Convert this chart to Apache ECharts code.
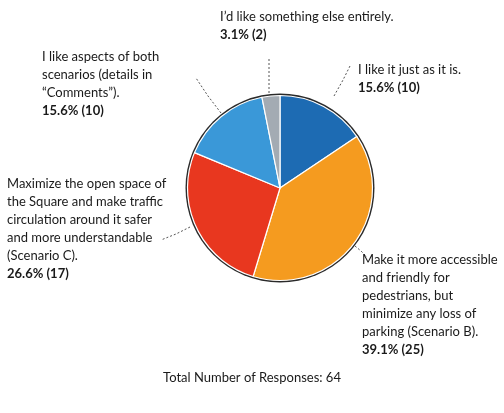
<!DOCTYPE html>
<html>
<head>
<meta charset="utf-8">
<style>
  html, body { margin: 0; padding: 0; background: #ffffff; }
  #chart { width: 504px; height: 413px; }
</style>
<script src="https://cdn.jsdelivr.net/npm/echarts@6/dist/echarts.min.js"></script>
</head>
<body>
<div id="chart"></div>
<script>
// Survey answers, clockwise from 12 o'clock
const categories = [
  "I like it just as it is.",
  "Make it more accessible\nand friendly for\npedestrians, but\nminimize any loss of\nparking (Scenario B).",
  "Maximize the open space of\nthe Square and make traffic\ncirculation around it safer\nand more understandable\n(Scenario C).",
  "I like aspects of both\nscenarios (details in\n\u201cComments\u201d).",
  "I\u2019d like something else entirely."
];
const responses = [10, 25, 17, 10, 2];
const colors = ["#1d6bb3", "#f59b1f", "#e8371f", "#3a98d8", "#a3abb3"];
const totalLabel = "Total Number of Responses: ";

const total = responses.reduce((a, b) => a + b, 0);

// label anchor (top-left) and leader line per slice
const labelSpots = [
  { x: 358, y: 61,  line: [[334, 96], [343, 80], [350, 66]] },
  { x: 362, y: 251, line: [[355, 246], [361, 251], [367, 257]] },
  { x: 7,   y: 175, line: [[190, 227], [176, 234], [161, 240]] },
  { x: 42,  y: 48,  line: [[221, 113], [208, 96], [196, 78]] },
  { x: 220, y: 8,   line: [[269, 93], [269, 76], [269, 59]] }
];

const chart = echarts.init(document.getElementById('chart'));

const option = {
  backgroundColor: '#ffffff',
  textStyle: { fontFamily: 'Lato' },
  series: [
    {
      // dark rim behind the slices
      type: 'pie',
      silent: true,
      center: [280, 188],
      radius: [0, 94.5],
      label: { show: false },
      labelLine: { show: false },
      itemStyle: { color: '#2a2a2a' },
      data: [{ value: 1 }],
      z: 1
    },
    {
      type: 'pie',
      center: [280, 188],
      radius: [0, 92.5],
      startAngle: 90,
      clockwise: true,
      z: 2,
      data: categories.map((c, i) => ({
        name: c,
        value: responses[i],
        itemStyle: { color: colors[i] }
      })),
      itemStyle: { borderColor: '#ffffff', borderWidth: 1.2 },
      label: {
        show: true,
        position: 'outside',
        overflow: 'none',
        width: 300,
        formatter: p => {
          const pct = (p.value / total * 100).toFixed(1);
          const lines = p.name.split('\n').map(s => '{n|' + s + '}').join('\n');
          return lines + '\n{b|' + pct + '% (' + p.value + ')}';
        },
        rich: {
          n: { fontFamily: 'Lato', fontSize: 13, color: '#1a1a1a', lineHeight: 18 },
          b: { fontFamily: 'Lato', fontSize: 13, fontWeight: 'bold', color: '#1a1a1a', lineHeight: 18 }
        }
      },
      labelLine: {
        show: true,
        lineStyle: { color: '#555555', width: 1, type: [2, 2] }
      },
      labelLayout: p => {
        const s = labelSpots[p.dataIndex];
        return {
          x: s.x,
          y: s.y,
          align: 'left',
          verticalAlign: 'top',
          labelLinePoints: s.line
        };
      }
    }
  ],
  graphic: [
    {
      type: 'text',
      left: 'center',
      top: 371,
      style: {
        text: totalLabel + total,
        font: '13px Lato',
        fill: '#1a1a1a'
      }
    }
  ]
};

chart.setOption(option);
</script>
</body>
</html>
